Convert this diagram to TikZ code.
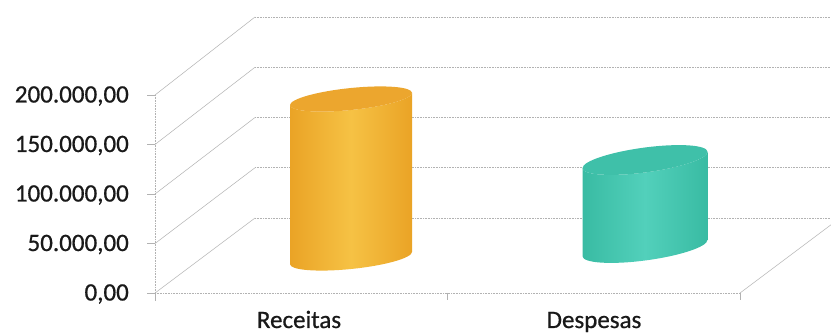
\documentclass[tikz,border=0pt]{standalone}
\usepackage{fontspec}
\setmainfont{Carlito}[FakeBold=0.7]
\definecolor{orangeL}{HTML}{F6C244}
\definecolor{orangeD}{HTML}{EAA326}
\definecolor{orangeT}{HTML}{ECA62E}
\definecolor{tealL}{HTML}{52D0BB}
\definecolor{tealD}{HTML}{39BBA3}
\definecolor{tealT}{HTML}{3FC0A9}
\begin{document}
\begin{tikzpicture}[x=1pt,y=1pt,
  gridd/.style={draw=gray!60, line width=0.5pt},
  gridh/.style={draw=gray!60, line width=0.6pt, densely dotted},
  ylab/.style={font=\fontsize{25}{30}\selectfont, text=black!90, anchor=base east, inner sep=0pt},
  catlab/.style={font=\fontsize{25}{30}\selectfont, text=black!90, anchor=base, inner sep=0pt}]
\useasboundingbox (0,0) rectangle (831,335);
\clip (0,0) rectangle (831,335);
\fill[white] (0,0) rectangle (831,335);

% walls: diagonals, back lines, ticks
\foreach \i/\lab in {0/{0,00},1/{50.000,00},2/{100.000,00},3/{150.000,00},4/{200.000,00}} {
  \pgfmathsetmacro\yf{42+49.5*\i}
  \pgfmathsetmacro\yb{117+50.25*\i}
  \draw[gridd] (155,\yf) -- (255,\yb);
  \draw[gridh] (255,\yb) -- (835,\yb);
  \draw[gridd] (147,\yf) -- (155,\yf);
  \node[ylab] (ylab\i) at (129,\yf-7.5) {\lab};
}
% axis and floor
\draw[gridh] (155,240) -- (155,35);
\draw[gridh] (155,42) -- (740,42);
\draw[gridd] (740,42) -- (840,117);
\foreach \x in {155,447,740} \draw[gridd] (\x,42) -- (\x,35);

% Receitas cylinder
\begin{scope}[shift={(351,77)}, yslant=0.1]
  \shade[left color=orangeD, right color=orangeD, middle color=orangeL]
    (-61,0) arc[start angle=180, end angle=360, x radius=61, y radius=11]
    -- (61,159) arc[start angle=0, end angle=-180, x radius=61, y radius=11] -- cycle;
  \fill[orangeT] (0,159) ellipse[x radius=61, y radius=11];
\end{scope}

% Despesas cylinder
\begin{scope}[shift={(645,87)}, yslant=0.13]
  \shade[left color=tealD, right color=tealD, middle color=tealL]
    (-62.5,0) arc[start angle=180, end angle=360, x radius=62.5, y radius=12.5]
    -- (62.5,88) arc[start angle=0, end angle=-180, x radius=62.5, y radius=12.5] -- cycle;
  \fill[tealT] (0,88) ellipse[x radius=62.5, y radius=12.5];
\end{scope}

\node[catlab] (rec) at (299,7) {Receitas};
\node[catlab] (desp) at (594,7) {Despesas};
\end{tikzpicture}
\end{document}
